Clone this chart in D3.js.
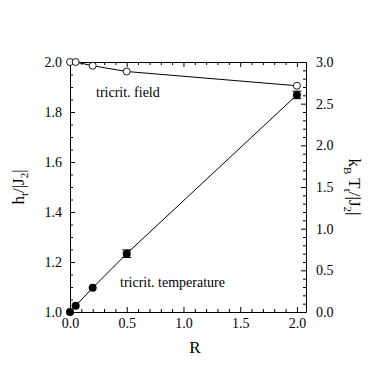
<!DOCTYPE html>
<html><head><meta charset="utf-8">
<script src="https://cdn.jsdelivr.net/npm/d3@7"></script>
<style>
body{margin:0;background:#fff;}
</style></head>
<body><svg id="c" width="375" height="375"></svg>
<script>
// Data
const fieldR = [0, 0.05, 0.2, 0.5, 2.0];
const fieldH = [2.0, 2.0, 1.985, 1.962, 1.905];
const tempR = [0, 0.05, 0.2, 0.5, 2.0];
const tempT = [0.0, 0.075, 0.29, 0.70, 2.605];
const tempErr = [0, 0, 0, 0.045, 0.045];
const xTicks = [0, 0.5, 1.0, 1.5, 2.0];
const yLTicks = [1.0, 1.2, 1.4, 1.6, 1.8, 2.0];
const yRTicks = [0.0, 0.5, 1.0, 1.5, 2.0, 2.5, 3.0];

const FONT = "Liberation Serif";
const svg = d3.select("#c").attr("font-family", FONT);
const L = 70, Rt = 306, T = 62, B = 312;
const x = d3.scaleLinear([0, 2.08], [L, Rt]);
const yL = d3.scaleLinear([1, 2], [B, T]);
const yR = d3.scaleLinear([0, 3], [B, T]);

const xMinor = d3.range(0, 2.081, 0.1).filter(v => Math.abs(v*2 - Math.round(v*2)) > 1e-6);
const yLMinor = d3.range(1, 2.001, 0.05).filter(v => Math.abs(v*5 - Math.round(v*5)) > 1e-6);
const yRMinor = d3.range(0, 3.001, 0.1).filter(v => Math.abs(v*2 - Math.round(v*2)) > 1e-6);

function styleAxis(g){
  g.attr("font-family", FONT).attr("font-size", 14);
  g.selectAll("path.domain").attr("stroke","#000").attr("stroke-width",1);
  g.selectAll(".tick line").attr("stroke","#000").attr("stroke-width",1);
  g.selectAll("text").attr("font-family",FONT).attr("font-size",14).attr("fill","#000");
}
// bottom
svg.append("g").attr("transform",`translate(0,${B})`)
  .call(d3.axisBottom(x).tickValues(xTicks).tickFormat(d3.format(".1f")).tickSize(-5).tickSizeOuter(0).tickPadding(6))
  .call(styleAxis);
svg.append("g").attr("transform",`translate(0,${B})`)
  .call(d3.axisBottom(x).tickValues(xMinor).tickFormat("").tickSize(-3).tickSizeOuter(0))
  .call(g=>g.select(".domain").remove()).call(styleAxis);
// top
svg.append("g").attr("transform",`translate(0,${T})`)
  .call(d3.axisTop(x).tickValues(xTicks).tickFormat("").tickSize(-5).tickSizeOuter(0))
  .call(styleAxis);
svg.append("g").attr("transform",`translate(0,${T})`)
  .call(d3.axisTop(x).tickValues(xMinor).tickFormat("").tickSize(-3).tickSizeOuter(0))
  .call(g=>g.select(".domain").remove()).call(styleAxis);
// left
svg.append("g").attr("transform",`translate(${L},0)`)
  .call(d3.axisLeft(yL).tickValues(yLTicks).tickFormat(d3.format(".1f")).tickSize(-5).tickSizeOuter(0).tickPadding(8))
  .call(styleAxis);
svg.append("g").attr("transform",`translate(${L},0)`)
  .call(d3.axisLeft(yL).tickValues(yLMinor).tickFormat("").tickSize(-3).tickSizeOuter(0))
  .call(g=>g.select(".domain").remove()).call(styleAxis);
// right
svg.append("g").attr("transform",`translate(${Rt},0)`)
  .call(d3.axisRight(yR).tickValues(yRTicks).tickFormat(d3.format(".1f")).tickSize(-5).tickSizeOuter(0).tickPadding(10))
  .call(styleAxis);
svg.append("g").attr("transform",`translate(${Rt},0)`)
  .call(d3.axisRight(yR).tickValues(yRMinor).tickFormat("").tickSize(-3).tickSizeOuter(0))
  .call(g=>g.select(".domain").remove()).call(styleAxis);

// field series
const fData = fieldR.map((r,i)=>({r, v: fieldH[i]}));
svg.append("path").datum(fData)
  .attr("d", d3.line().x(d=>x(d.r)).y(d=>yL(d.v)))
  .attr("fill","none").attr("stroke","#000").attr("stroke-width",1);
svg.selectAll("circle.f").data(fData).join("circle").attr("class","f")
  .attr("cx",d=>x(d.r)).attr("cy",d=>yL(d.v)).attr("r",3.5)
  .attr("fill","#fff").attr("stroke","#000").attr("stroke-width",0.9);

// temperature series
const tData = tempR.map((r,i)=>({r, v: tempT[i], e: tempErr[i]}));
svg.append("path").datum(tData)
  .attr("d", d3.line().x(d=>x(d.r)).y(d=>yR(d.v)))
  .attr("fill","none").attr("stroke","#000").attr("stroke-width",1);
const eb = svg.selectAll("g.eb").data(tData.filter(d=>d.e>0)).join("g").attr("class","eb")
  .attr("stroke","#000").attr("stroke-width",1);
eb.append("line").attr("x1",d=>x(d.r)).attr("x2",d=>x(d.r)).attr("y1",d=>yR(d.v-d.e)).attr("y2",d=>yR(d.v+d.e));
eb.append("line").attr("x1",d=>x(d.r)-4.5).attr("x2",d=>x(d.r)+4.5).attr("y1",d=>yR(d.v+d.e)).attr("y2",d=>yR(d.v+d.e));
eb.append("line").attr("x1",d=>x(d.r)-4.5).attr("x2",d=>x(d.r)+4.5).attr("y1",d=>yR(d.v-d.e)).attr("y2",d=>yR(d.v-d.e));
svg.selectAll("circle.t").data(tData).join("circle").attr("class","t")
  .attr("cx",d=>x(d.r)).attr("cy",d=>yR(d.v)).attr("r",4).attr("fill","#000");

// annotations
svg.append("text").attr("x",96).attr("y",97).attr("font-size",14).attr("font-family",FONT).text("tricrit. field");
svg.append("text").attr("x",120).attr("y",287).attr("font-size",14).attr("font-family",FONT).text("tricrit. temperature");

// axis titles
svg.append("text").attr("x",195).attr("y",353).attr("text-anchor","middle").attr("font-size",17).attr("font-family",FONT).text("R");
const lt = svg.append("text").attr("transform","translate(24,187) rotate(-90)").attr("text-anchor","middle").attr("font-size",17).attr("font-family",FONT);
lt.append("tspan").text("h");
lt.append("tspan").attr("font-size",11).attr("dy",4).text("t");
lt.append("tspan").attr("dy",-4).text("/|J");
lt.append("tspan").attr("font-size",11).attr("dy",4).text("2");
lt.append("tspan").attr("dy",-4).text("|");
const rt = svg.append("text").attr("transform","translate(349,187) rotate(90)").attr("text-anchor","middle").attr("font-size",17).attr("font-family",FONT);
rt.append("tspan").text("k");
rt.append("tspan").attr("font-size",11).attr("dy",5).text("B");
rt.append("tspan").attr("dy",-5).text(" T");
rt.append("tspan").attr("font-size",11).attr("dy",5).text("t");
rt.append("tspan").attr("dy",-5).text("/|J");
rt.append("tspan").attr("font-size",11).attr("dy",5).text("2");
rt.append("tspan").attr("dy",-5).text("|");
</script></body></html>
